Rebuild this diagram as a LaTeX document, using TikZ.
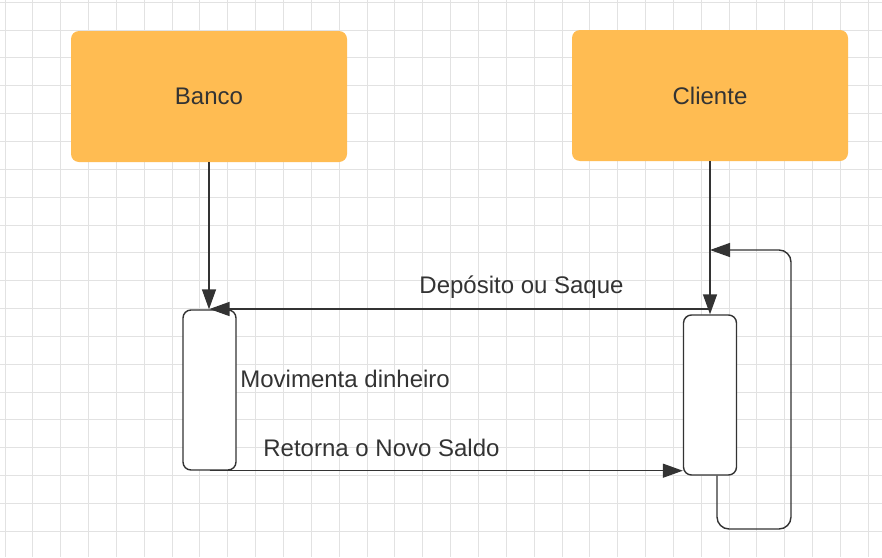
\documentclass[tikz,border=0pt]{standalone}
\usepackage{fontspec}
\setmainfont{Liberation Sans}
\usetikzlibrary{arrows.meta}

\definecolor{boxorange}{RGB}{255,188,82}
\definecolor{inkgray}{RGB}{51,51,51}
\definecolor{gridgray}{RGB}{226,226,226}

\begin{document}
\begin{tikzpicture}[x=0.5pt, y=-0.5pt,
    actor/.style={fill=boxorange, rounded corners=4pt, minimum width=138pt,
      minimum height=65.5pt, text=inkgray, font=\fontsize{12}{14}\selectfont},
    activation/.style={draw=inkgray, line width=0.7pt, fill=white, rounded corners=4pt,
      minimum width=26.5pt, minimum height=80pt, inner sep=0pt},
    msg/.style={draw=inkgray, line width=0.7pt, -{Triangle[length=10pt, width=7pt]}},
    msgtext/.style={text=inkgray, inner sep=0pt, font=\fontsize{12}{14}\selectfont},
    gridline/.style={draw=gridgray, line width=0.5pt}]
  \useasboundingbox (0,0) rectangle (882,557);
  \fill[white] (0,0) rectangle (882,557);
  % background grid
  \foreach \i in {0, ..., 31}{
    \draw[gridline] (5+27.85*\i,0) -- (5+27.85*\i,557);
  }
  \foreach \i in {0, ..., 19}{
    \draw[gridline] (0,2.2+27.85*\i) -- (882,2.2+27.85*\i);
  }

  \node[actor] (banco) at (209,96.5) {Banco};
  \node[actor] (cliente) at (710,95.5) {Cliente};
  \node[activation] (bact) at (209.5,390) {};
  \node[activation] (cact) at (710,395) {};

  \coordinate (dep) at (710,309);
  \coordinate (back) at (710,250);

  % lifelines
  \draw[msg] (banco.south) -- (banco.south |- bact.north);
  \draw[msg] (cliente.south) -- (cact.north);
  % messages
  \draw[msg] (dep) -- (dep -| bact.north);
  \draw[msg] (bact.south) -- (bact.south -| cact.west);
  \draw[msg, rounded corners=6pt] ([xshift=3.5pt]cact.south) |- (791,529) |- (back);

  \node[msgtext, anchor=base] (deptext) at (521.5,293.5) {Depósito ou Saque};
  \node[msgtext, anchor=base west] (movtext) at (240,387.5) {Movimenta dinheiro};
  \node[msgtext, anchor=base west] (rettext) at (263,456.7) {Retorna o Novo Saldo};
\end{tikzpicture}
\end{document}
